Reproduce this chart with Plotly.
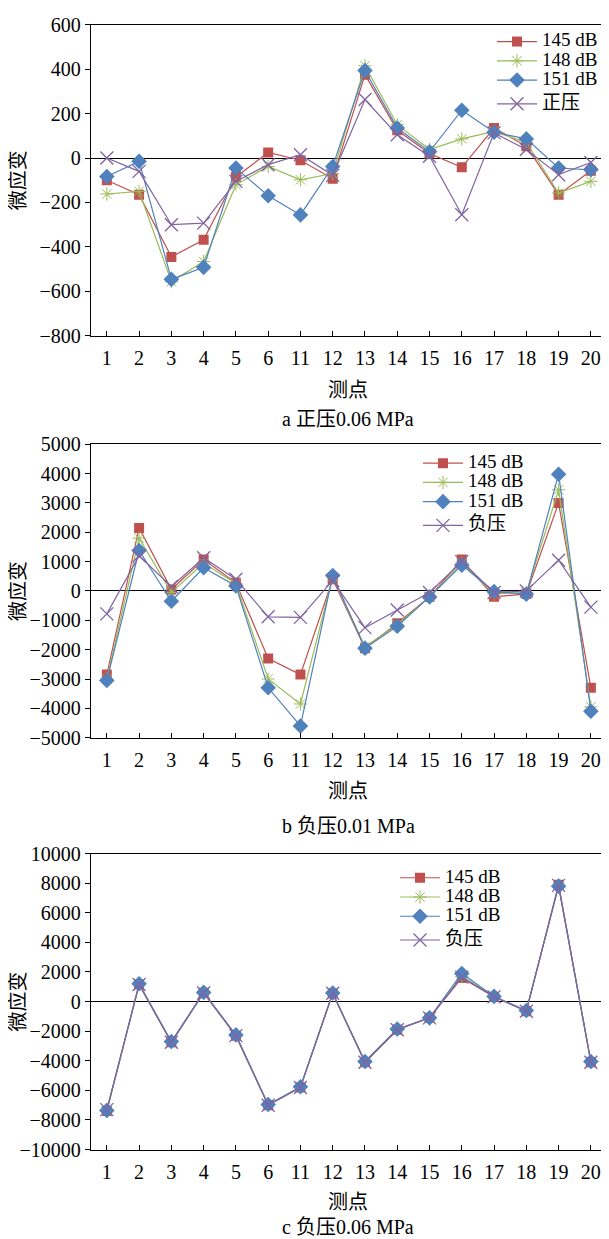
import plotly.graph_objects as go

cats = ["1", "2", "3", "4", "5", "6", "11", "12", "13", "14", "15", "16", "17", "18", "19", "20"]

a_145 = [-100, -165, -445, -368, -85, 25, -10, -93, 375, 125, 20, -42, 135, 53, -165, -57]
a_148 = [-162, -150, -556, -466, -120, -38, -98, -70, 415, 150, 38, 86, 120, 70, -158, -105]
a_151 = [-83, -15, -546, -492, -45, -170, -256, -38, 394, 135, 28, 215, 116, 86, -45, -53]
a_pos = [0, -60, -300, -293, -105, -30, 15, -78, 263, 105, 8, -255, 113, 38, -75, -20]

b_145 = [-2850, 2150, 50, 1070, 280, -2300, -2850, 400, -1950, -1100, -200, 1070, -200, -100, 3000, -3300]
b_148 = [-3000, 1800, -50, 950, 250, -3000, -3850, 480, -1900, -1150, -200, 950, -100, -50, 3450, -3950]
b_151 = [-3050, 1380, -350, 790, 170, -3300, -4600, 530, -1950, -1200, -200, 880, -20, -110, 3980, -4100]
b_neg = [-780, 1200, 150, 1130, 400, -880, -900, 360, -1250, -650, -50, 1000, -50, 0, 1050, -550]

c_145 = [-7400, 1150, -2750, 600, -2300, -7000, -5800, 550, -4100, -1900, -1100, 1600, 330, -650, 7900, -4100]
c_148 = [-7400, 1150, -2750, 600, -2300, -7000, -5800, 550, -4100, -1900, -1100, 1700, 330, -650, 7850, -4100]
c_151 = [-7350, 1200, -2700, 620, -2250, -6950, -5750, 580, -4050, -1850, -1100, 1900, 350, -600, 7800, -4050]
c_neg = [-7300, 1150, -2750, 580, -2300, -7000, -5800, 560, -4100, -1900, -1100, 1650, 320, -650, 7850, -4100]

names_a = ["145 dB", "148 dB", "151 dB", "正压"]
names_bc = ["145 dB", "148 dB", "151 dB", "负压"]
y_ticks_a = [-800, 600, 200]
y_ticks_b = [-5000, 5000, 1000]
y_ticks_c = [-10000, 10000, 2000]
captions = ["a 正压0.06 MPa", "b 负压0.01 MPa", "c 负压0.06 MPa"]

# page offset (default body margin) and the observed vertical mapping of the capture
OFF = 8
VS, VO = 0.981, 11.5
W, H = 609 - OFF, 1252
def fx(px):
    return (px - OFF) / W
def fy(py):
    fig_y = (py - VO) / VS - OFF
    return 1 - fig_y / H

SERIF = "Liberation Serif, Times New Roman, Noto Sans CJK SC, serif"
FS = 20
LEG_FS = 19

colors = ["#C0504D", "#9BBB59", "#4F81BD", "#8064A2"]
markers = [
    dict(symbol="square", size=10, color=colors[0]),
    dict(symbol="asterisk-open", size=11, color=colors[1], line=dict(color=colors[1], width=1)),
    dict(symbol="diamond", size=12, color=colors[2]),
    dict(symbol="x-thin-open", size=13, color=colors[3], line=dict(color=colors[3], width=1.3)),
]

fig = go.Figure()

panels = [
    ("x", "y", "legend", [a_145, a_148, a_151, a_pos], names_a),
    ("x2", "y2", "legend2", [b_145, b_148, b_151, b_neg], names_bc),
    ("x3", "y3", "legend3", [c_145, c_148, c_151, c_neg], names_bc),
]
for xa, ya, lg, series, names in panels:
    for i, (vals, nm) in enumerate(zip(series, names)):
        fig.add_trace(go.Scatter(
            x=cats, y=vals, mode="lines+markers",
            name="<span style='font-size:%dpx'>%s</span>" % (LEG_FS, nm),
            legendgroup=lg + ("a" if i < 3 else "b"),
            line=dict(color=colors[i], width=1.2),
            marker=markers[i], xaxis=xa, yaxis=ya, legend=lg,
        ))

plot_boxes = [(25, 335.7), (444, 737), (852.7, 1148.3)]
xdom = [fx(90.7), fx(607)]

common_x = dict(
    type="category", categoryorder="array", categoryarray=cats, range=[-0.5, 15.5],
    showline=True, linecolor="black", linewidth=1, mirror=True,
    ticks="inside", ticklen=5, tickcolor="black", showgrid=False,
    tickfont=dict(family=SERIF, size=FS, color="black"),
    ticklabelstandoff=4, domain=xdom,
)
def yax(rng, box, anchor):
    return dict(
        range=[rng[0], rng[1]], dtick=rng[2], tick0=0, tickformat="d",
        domain=[fy(box[1]), fy(box[0])], anchor=anchor,
        showline=True, linecolor="black", linewidth=1, mirror=True,
        ticks="outside", ticklen=5, tickcolor="black", showgrid=False,
        zeroline=True, zerolinecolor="black", zerolinewidth=1,
        tickfont=dict(family=SERIF, size=FS, color="black"),
    )

def leg(xpx, first_row):
    # first legend row sits about 13px below the legend top
    top_fig = (first_row - VO) / VS - OFF - 13
    return dict(x=fx(xpx), y=1 - top_fig / H, xanchor="left", yanchor="top",
                bgcolor="rgba(0,0,0,0)", font=dict(family=SERIF, size=12.5, color="black"),
                tracegroupgap=4.5, itemwidth=40)

ann = []
for (top, bot), cap, (t_y, c_y) in zip(plot_boxes, captions, [(390, 419), (790, 825), (1201, 1226)]):
    mid = (top + bot) / 2
    ann.append(dict(text="微应变", x=fx(18), y=fy(mid), textangle=-90))
    ann.append(dict(text="测点", x=fx(348), y=fy(t_y), textangle=0))
    ann.append(dict(text=cap, x=fx(348), y=fy(c_y), textangle=0))
for a in ann:
    a.update(xref="paper", yref="paper", xanchor="center", yanchor="middle", showarrow=False,
             font=dict(family=SERIF, size=FS, color="black"))

fig.update_layout(
    width=W, height=H, margin=dict(l=0, r=0, t=0, b=0),
    paper_bgcolor="white", plot_bgcolor="white",
    xaxis=dict(common_x, anchor="y"),
    xaxis2=dict(common_x, anchor="y2"),
    xaxis3=dict(common_x, anchor="y3"),
    yaxis=yax(y_ticks_a, plot_boxes[0], "x"),
    yaxis2=yax(y_ticks_b, plot_boxes[1], "x2"),
    yaxis3=yax(y_ticks_c, plot_boxes[2], "x3"),
    legend=leg(492, 40),
    legend2=leg(418, 461),
    legend3=leg(395, 875),
    annotations=ann,
    font=dict(family=SERIF),
)

fig.write_html("out.html")
